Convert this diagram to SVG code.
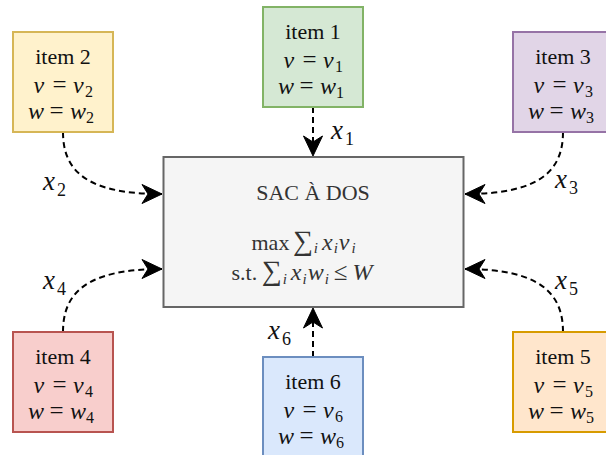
<svg xmlns="http://www.w3.org/2000/svg" width="606" height="455" viewBox="0 0 606 455">
<defs>
<style>
text{font-family:"Liberation Serif","Times New Roman",serif;fill:#111;}
.t{font-size:22px;text-anchor:middle;}
.mi{font-size:24px;font-style:italic;}
.eq{font-size:25px;text-anchor:middle;}
.s{font-size:16px;}
.si{font-size:15px;font-style:italic;}
.sig{font-size:28px;}
.lab{font-size:27px;font-style:italic;}
.ls{font-size:18px;font-style:normal;}
.box{stroke-width:2;}
.edge{fill:none;stroke:#000;stroke-width:2;stroke-dasharray:6 4;}
.main text{fill:#333;}
</style>
<marker id="arr" markerUnits="userSpaceOnUse" markerWidth="24" markerHeight="24" viewBox="-22 -12 24 24" refX="0" refY="0" orient="auto">
<path d="M0,0 L-20,-9.5 L-14,0 L-20,9.5 Z" fill="#000" stroke="#000" stroke-width="1"/>
</marker>
</defs>
<rect width="606" height="455" fill="#fff"/>

<g id="connectors">
<path class="edge" d="M313,107 L313,156" marker-end="url(#arr)"/>
<path class="edge" d="M63,132 C63,170 85,194 162,194" marker-end="url(#arr)"/>
<path class="edge" d="M563,132 C563,170 541,194 465,194" marker-end="url(#arr)"/>
<path class="edge" d="M63,332 C63,294 85,269 162,269" marker-end="url(#arr)"/>
<path class="edge" d="M563,332 C563,294 541,269 465,269" marker-end="url(#arr)"/>
<path class="edge" d="M313,357 L313,308" marker-end="url(#arr)"/>
<text class="lab" x="331" y="139">x<tspan class="ls" dx="2" dy="6">1</tspan></text>
<text class="lab" x="43" y="190">x<tspan class="ls" dx="2" dy="6">2</tspan></text>
<text class="lab" x="555" y="188">x<tspan class="ls" dx="2" dy="6">3</tspan></text>
<text class="lab" x="43" y="289">x<tspan class="ls" dx="2" dy="6">4</tspan></text>
<text class="lab" x="555" y="289">x<tspan class="ls" dx="2" dy="6">5</tspan></text>
<text class="lab" x="268" y="339">x<tspan class="ls" dx="2" dy="6">6</tspan></text>
</g>

<g id="sac" class="main">
<rect class="box" x="163.5" y="157" width="300" height="150" fill="#f5f5f5" stroke="#666666"/>
<text class="t" x="313" y="200">SAC À DOS</text>
<text font-size="22"><tspan x="251.5" y="250">max </tspan><tspan class="sig" dx="-2">∑</tspan><tspan class="si" dx="1" dy="3">i</tspan><tspan class="mi" dx="4" dy="-3">x</tspan><tspan class="si" dx="1" dy="3">i</tspan><tspan class="mi" dx="1" dy="-3">v</tspan><tspan class="si" dx="2" dy="3">i</tspan><tspan x="231.5" y="280">s.t. </tspan><tspan class="sig" dx="-1">∑</tspan><tspan class="si" dx="1" dy="4">i</tspan><tspan class="mi" dx="4" dy="-4">x</tspan><tspan class="si" dx="1" dy="4">i</tspan><tspan class="mi" dx="1" dy="-4">w</tspan><tspan class="si" dx="1" dy="4">i</tspan><tspan font-size="25" dx="5" dy="-4">≤</tspan><tspan class="mi" font-size="28" dx="5">W</tspan></text>
</g>

<g id="item1" transform="translate(263,7)">
<rect class="box" x="0" y="0" width="100" height="100" fill="#d5e8d4" stroke="#82b366"/>
<text class="t" x="50" y="32">item 1</text>
<text class="mi" x="20.5" y="61">v</text><text class="eq" x="46.5" y="61">=</text><text class="mi" x="60" y="61">v</text><text class="s" x="72" y="65">1</text>
<text class="mi" x="15" y="87">w</text><text class="eq" x="43.5" y="87">=</text><text class="mi" x="57" y="87">w</text><text class="s" x="73" y="91">1</text>
</g>

<g id="item2" transform="translate(13,32)">
<rect class="box" x="0" y="0" width="100" height="100" fill="#fff2cc" stroke="#d6b656"/>
<text class="t" x="50" y="32">item 2</text>
<text class="mi" x="20.5" y="61">v</text><text class="eq" x="46.5" y="61">=</text><text class="mi" x="60" y="61">v</text><text class="s" x="72" y="65">2</text>
<text class="mi" x="15" y="87">w</text><text class="eq" x="43.5" y="87">=</text><text class="mi" x="57" y="87">w</text><text class="s" x="73" y="91">2</text>
</g>

<g id="item3" transform="translate(513,32)">
<rect class="box" x="0" y="0" width="100" height="100" fill="#e1d5e7" stroke="#9673a6"/>
<text class="t" x="50" y="32">item 3</text>
<text class="mi" x="20.5" y="61">v</text><text class="eq" x="46.5" y="61">=</text><text class="mi" x="60" y="61">v</text><text class="s" x="72" y="65">3</text>
<text class="mi" x="15" y="87">w</text><text class="eq" x="43.5" y="87">=</text><text class="mi" x="57" y="87">w</text><text class="s" x="73" y="91">3</text>
</g>

<g id="item4" transform="translate(13,332)">
<rect class="box" x="0" y="0" width="100" height="100" fill="#f8cecc" stroke="#b85450"/>
<text class="t" x="50" y="32">item 4</text>
<text class="mi" x="20.5" y="61">v</text><text class="eq" x="46.5" y="61">=</text><text class="mi" x="60" y="61">v</text><text class="s" x="72" y="65">4</text>
<text class="mi" x="15" y="87">w</text><text class="eq" x="43.5" y="87">=</text><text class="mi" x="57" y="87">w</text><text class="s" x="73" y="91">4</text>
</g>

<g id="item5" transform="translate(513,332)">
<rect class="box" x="0" y="0" width="100" height="100" fill="#ffe6cc" stroke="#d79b00"/>
<text class="t" x="50" y="32">item 5</text>
<text class="mi" x="20.5" y="61">v</text><text class="eq" x="46.5" y="61">=</text><text class="mi" x="60" y="61">v</text><text class="s" x="72" y="65">5</text>
<text class="mi" x="15" y="87">w</text><text class="eq" x="43.5" y="87">=</text><text class="mi" x="57" y="87">w</text><text class="s" x="73" y="91">5</text>
</g>

<g id="item6" transform="translate(263,357)">
<rect class="box" x="0" y="0" width="100" height="100" fill="#dae8fc" stroke="#6c8ebf"/>
<text class="t" x="50" y="32">item 6</text>
<text class="mi" x="20.5" y="61">v</text><text class="eq" x="46.5" y="61">=</text><text class="mi" x="60" y="61">v</text><text class="s" x="72" y="65">6</text>
<text class="mi" x="15" y="87">w</text><text class="eq" x="43.5" y="87">=</text><text class="mi" x="57" y="87">w</text><text class="s" x="73" y="91">6</text>
</g>
</svg>
